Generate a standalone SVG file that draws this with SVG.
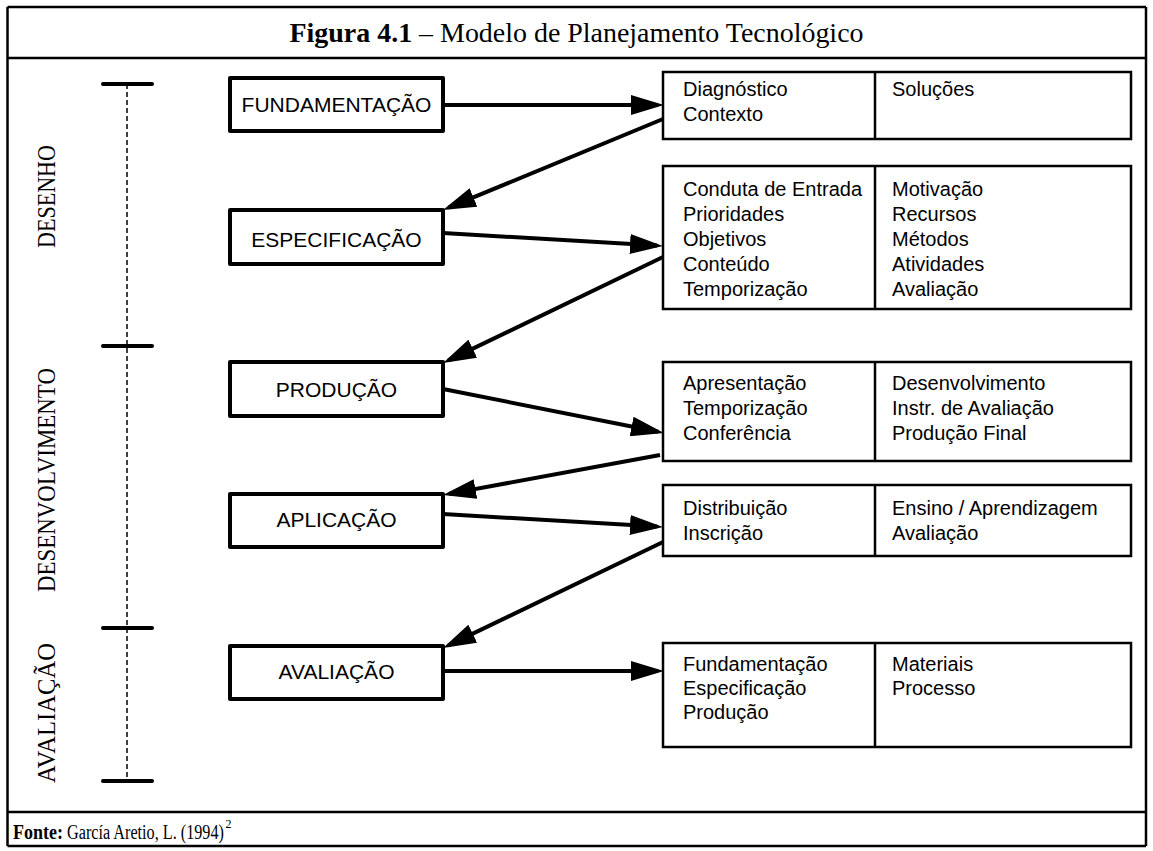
<svg xmlns="http://www.w3.org/2000/svg" width="1153" height="851" viewBox="0 0 1153 851">
<style>
.frame{fill:none;stroke:#000;stroke-width:2.5}
.step{fill:#fff;stroke:#000;stroke-width:4;stroke-linejoin:round}
.info{fill:#fff;stroke:#000;stroke-width:2.5}
.sep{stroke:#000;stroke-width:2.5}
.lbl{font-family:"Liberation Sans",Arial,sans-serif;font-size:21px;fill:#000}
.txt{font-family:"Liberation Sans",Arial,sans-serif;font-size:20px;fill:#000}
.serif{font-family:"Liberation Serif","Times New Roman",serif;fill:#000}
.tick{stroke:#000;stroke-width:4;stroke-linecap:round}
.dash{stroke:#000;stroke-width:1.5;stroke-dasharray:5 3}
.arr{stroke:#000;stroke-width:4;fill:none;marker-end:url(#ah)}
</style>
<defs>
<marker id="ah" markerUnits="userSpaceOnUse" markerWidth="33" markerHeight="20" refX="27" refY="10" viewBox="0 0 33 20" orient="auto">
<path d="M0,0 L33,10 L0,20 Z" fill="#000"/>
</marker>
</defs>
<rect width="1153" height="851" fill="#fff"/>
<g id="frame">
<line class="frame" x1="7.5" y1="7" x2="1146" y2="7"/>
<line class="frame" x1="7.5" y1="7" x2="7.5" y2="846"/>
<line class="frame" x1="1146" y1="7" x2="1146" y2="846"/>
<line class="frame" x1="7.5" y1="846" x2="1146" y2="846"/>
<line class="frame" x1="7.5" y1="58" x2="1146" y2="58"/>
<line class="frame" x1="7.5" y1="812" x2="1146" y2="812"/>
</g>
<g id="title">
<text class="serif" x="576.5" y="42" text-anchor="middle" font-size="28" textLength="574" lengthAdjust="spacingAndGlyphs"><tspan font-weight="bold">Figura 4.1</tspan> – Modelo de Planejamento Tecnológico</text>
</g>
<g id="timeline">
<line class="dash" x1="127" y1="84" x2="127" y2="781"/>
<line class="tick" x1="103" y1="84" x2="152" y2="84"/>
<line class="tick" x1="103" y1="346" x2="152" y2="346"/>
<line class="tick" x1="103" y1="628" x2="152" y2="628"/>
<line class="tick" x1="103" y1="781" x2="152" y2="781"/>
</g>
<g id="phases">
<text class="serif" font-size="25" text-anchor="middle" transform="translate(55,196.5) rotate(-90)" textLength="103" lengthAdjust="spacingAndGlyphs">DESENHO</text>
<text class="serif" font-size="25" text-anchor="middle" transform="translate(55,480) rotate(-90)" textLength="224" lengthAdjust="spacingAndGlyphs">DESENVOLVIMENTO</text>
<text class="serif" font-size="25" text-anchor="middle" transform="translate(55,713) rotate(-90)" textLength="140" lengthAdjust="spacingAndGlyphs">AVALIAÇÃO</text>
</g>
<g id="connectors">
<line class="arr" x1="443" y1="105" x2="658" y2="105"/>
<line class="arr" x1="663" y1="119" x2="448.5" y2="207.7"/>
<line class="arr" x1="443" y1="233" x2="657" y2="245.6"/>
<line class="arr" x1="663" y1="257" x2="448.4" y2="360.4"/>
<line class="arr" x1="443" y1="389" x2="658.1" y2="431.8"/>
<line class="arr" x1="660" y1="455" x2="448.9" y2="493.9"/>
<line class="arr" x1="443" y1="514" x2="657" y2="526.6"/>
<line class="arr" x1="663" y1="542" x2="448.4" y2="645.4"/>
<line class="arr" x1="443" y1="671" x2="658" y2="671"/>
</g>
<g id="fundamentacao">
<rect class="step" x="230" y="78" width="213" height="53"/>
<text class="lbl" x="336.5" y="112" text-anchor="middle">FUNDAMENTAÇÃO</text>
</g>
<g id="especificacao">
<rect class="step" x="230" y="210" width="213" height="54"/>
<text class="lbl" x="336.5" y="247" text-anchor="middle">ESPECIFICAÇÃO</text>
</g>
<g id="producao">
<rect class="step" x="230" y="362" width="213" height="54"/>
<text class="lbl" x="336.5" y="397" text-anchor="middle">PRODUÇÃO</text>
</g>
<g id="aplicacao">
<rect class="step" x="230" y="494" width="213" height="53"/>
<text class="lbl" x="336.5" y="527" text-anchor="middle">APLICAÇÃO</text>
</g>
<g id="avaliacao">
<rect class="step" x="230" y="646" width="213" height="53"/>
<text class="lbl" x="336.5" y="679" text-anchor="middle">AVALIAÇÃO</text>
</g>
<g id="info-fundamentacao">
<rect class="info" x="663" y="72" width="468" height="67"/>
<line class="sep" x1="875" y1="72" x2="875" y2="139"/>
<text class="txt" x="683" y="96">Diagnóstico</text>
<text class="txt" x="683" y="121">Contexto</text>
<text class="txt" x="892" y="96">Soluções</text>
</g>
<g id="info-especificacao">
<rect class="info" x="663" y="166" width="468" height="143"/>
<line class="sep" x1="875" y1="166" x2="875" y2="309"/>
<text class="txt" x="683" y="196">Conduta de Entrada</text>
<text class="txt" x="683" y="221">Prioridades</text>
<text class="txt" x="683" y="246">Objetivos</text>
<text class="txt" x="683" y="271">Conteúdo</text>
<text class="txt" x="683" y="296">Temporização</text>
<text class="txt" x="892" y="196">Motivação</text>
<text class="txt" x="892" y="221">Recursos</text>
<text class="txt" x="892" y="246">Métodos</text>
<text class="txt" x="892" y="271">Atividades</text>
<text class="txt" x="892" y="296">Avaliação</text>
</g>
<g id="info-producao">
<rect class="info" x="663" y="362" width="468" height="99"/>
<line class="sep" x1="875" y1="362" x2="875" y2="461"/>
<text class="txt" x="683" y="390">Apresentação</text>
<text class="txt" x="683" y="415">Temporização</text>
<text class="txt" x="683" y="440">Conferência</text>
<text class="txt" x="892" y="390">Desenvolvimento</text>
<text class="txt" x="892" y="415">Instr. de Avaliação</text>
<text class="txt" x="892" y="440">Produção Final</text>
</g>
<g id="info-aplicacao">
<rect class="info" x="663" y="485" width="468" height="71"/>
<line class="sep" x1="875" y1="485" x2="875" y2="556"/>
<text class="txt" x="683" y="515">Distribuição</text>
<text class="txt" x="683" y="540">Inscrição</text>
<text class="txt" x="892" y="515">Ensino / Aprendizagem</text>
<text class="txt" x="892" y="540">Avaliação</text>
</g>
<g id="info-avaliacao">
<rect class="info" x="663" y="643" width="468" height="104"/>
<line class="sep" x1="875" y1="643" x2="875" y2="747"/>
<text class="txt" x="683" y="671">Fundamentação</text>
<text class="txt" x="683" y="695">Especificação</text>
<text class="txt" x="683" y="719">Produção</text>
<text class="txt" x="892" y="671">Materiais</text>
<text class="txt" x="892" y="695">Processo</text>
</g>
<g id="footer">
<text class="serif" font-size="18" font-weight="bold" transform="translate(13,839) scale(1,1.2)">Fonte:</text>
<text class="serif" font-size="16.2" transform="translate(67,839) scale(1,1.25)">García Aretio, L. (1994)</text>
<text class="serif" x="225.5" y="828" font-size="12">2</text>
</g>
</svg>
